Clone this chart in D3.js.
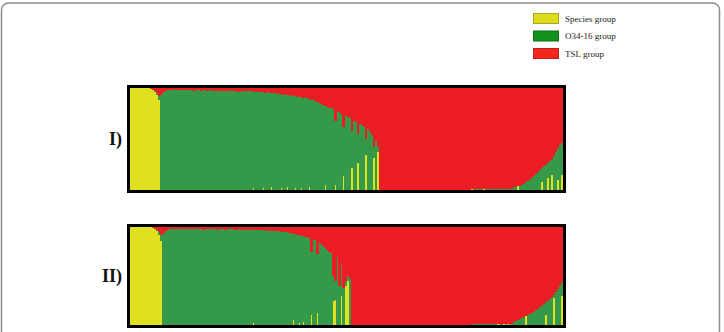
<!DOCTYPE html>
<html>
<head>
<meta charset="utf-8">
<script src="https://cdn.jsdelivr.net/npm/d3@7"></script>
<style>
  body { margin: 0; background: #fff; }
  svg { display: block; font-family: "Liberation Serif", "Times New Roman", serif; }
</style>
</head>
<body>
<svg id="chart"></svg>
<script>
const width = 724;
const height = 332;

const groups = ["Species group", "O34-16 group", "TSL group"];
const panelLabels = ["I)", "II)"];

// membership per individual (%), stacked yellow -> green -> red; green is the rest
const yellowI = [
  100,100,100,100,100,100,100,100,100,100,99,98,96,93,88,
  0,0,0,0,0,0,0,0,0,0, 0,0,0,0,0,0,0,0,0,0, 0,0,0,0,0,0,0,0,0,0, 0,0,0,0,0,0,0,0,0,0,
  0,0,0,0,0,0,2,0,0,0, 0,2,0,0,0,3,0,0,0,0, 2,0,0,3,0,0,0,2,0,0, 2,0,0,0,3,0,0,0,0,0,
  0,0,5,0,0,0,0,5,0,0, 0,14,0,0,0,22,0,0,26,0, 0,0,34,0,0,0,31,0,37,
  0,0,0,0,0,0,0,0,0,0, 0,0,0,0,0,0,0,0,0,0, 0,0,0,0,0,0,0,0,0,0, 0,0,0,0,0,0,0,0,0,0,
  0,0,0,0,0,0,1,0,0,0, 0,0,1,0,0,0,0,0,0,0, 0,0,0,0,0,0,0,0,0,4, 0,0,0,0,0,0,0,0,0,0,
  0,8,0,0,12,0,15,0,0,10, 0,15
];
const redI = [
  0,0,0,0,0,0,0,0,0,0,1,2,3,5,8,
  6,4,3,2,2,2,2,1,2,2, 2,2,2,2,2,2,3,2,2,2, 3,2,2,3,2,2,3,3,2,3, 3,3,3,3,2,3,3,3,3,4,
  3,3,3,3,3,3,3,4,3,4, 4,4,5,4,4,5,5,5,6,5, 6,7,6,7,7,8,7,8,9,8, 9,10,9,10,11,12,11,13,14,15,
  16,17,18,19,20,20,21,32,23,24, 25,38,27,28,29,42,32,33,45,35, 36,38,50,40,43,46,58,52,58,
  100,100,100,100,100,100,100,100,100,100, 100,100,100,100,100,100,100,100,100,100,
  100,100,100,100,100,100,100,100,100,100, 100,100,100,100,100,100,100,100,100,100,
  100,100,100,100,100,100,
  99,99,99,99,99,99,99,99,99,99, 99,99,99,99,99,99,99,99,99,99, 99,
  97,97,96,96,95,94,92,91,90,88, 86,84,82,80,78,76,75,74,72,71, 67,63,59,56,54
];

const yellowII = [
  100,100,100,100,100,100,100,100,100,100,100,99,98,96,92,86,
  0,0,0,0,0,0,0,0,0,0, 0,0,0,0,0,0,0,0,0,0, 0,0,0,0,0,0,0,0,0,0, 0,0,0,0,0,0,0,0,0,0,
  0,0,0,0,0,2,0,0,0,0, 0,0,0,0,0,0,0,0,0,0, 0,0,0,0,0,5,0,0,2,0, 3,0,0,0,10,0,0,12,0,0,
  0,0,0,0,0,25,26,0,0,30, 0,40,45,0,
  0,0,0,0,0,0,0,0,0,0, 0,0,0,0,0,0,0,0,0,0, 0,0,0,0,0,0,0,0,0,0, 0,0,0,0,0,0,0,0,0,0,
  0,0,0,0,0,0,0,0,0,0, 0,0,0,0,0,0,0,0,0,0, 0,0,0,0,0,0,0,0,0,0,
  0,0,0,1,0,0,1,0,1,0, 0,0,0,0,0,0,0,9,0,0, 0,0,0,0,0,0,0,10,0,0, 0,28,0,0,0,30
];
const redII = [
  0,0,0,0,0,0,0,0,0,0,0,1,2,3,5,8,
  6,4,3,2,2,2,2,2,2,1, 2,2,2,2,2,2,2,2,2,2, 3,2,2,2,2,2,2,3,2,2, 2,3,2,2,2,2,3,3,2,3,
  2,3,3,3,2,3,3,3,3,3, 3,3,4,3,4,4,4,4,4,5, 4,5,5,6,6,7,7,8,8,9, 9,10,10,11,25,13,13,28,15,17,
  19,21,23,25,27,50,55,31,60,38, 62,55,50,53,
  100,100,100,100,100,100,100,100,100,100, 100,100,100,100,100,100,100,100,100,100,
  100,100,100,100,100,100,100,100,100,100, 100,100,100,100,100,100,100,100,100,100,
  100,100,100,100,100,100,100,100,100,100, 100,100,100,100,100,100,100,100,100,100,
  99,99,99,99,99,99,99,99,99,99, 99,99,99,99,99,99,99,99,99,99, 99,
  97,96,95,94,93,92,91,90,89,88, 87,85,84,82,81,79,77,75,73,71, 69,66,63,60,56
];

const colors = { yellow: "#e0e01e", green: "#35994a", red: "#ec1d25" };
const legendFill = ["#dcdc1c", "#13931b", "#f3281f"];
const legendEdge = ["#a8a820", "#0c6e12", "#b82018"];

const svg = d3.select("#chart").attr("width", width).attr("height", height);

// outer rounded border of the figure
svg.append("rect")
  .attr("x", 1.5).attr("y", 3)
  .attr("width", 718).attr("height", 420)
  .attr("rx", 7)
  .attr("fill", "none")
  .attr("stroke", "#8c8c8c")
  .attr("stroke-width", 1.5);

function drawPanel(yellow, red, top, bottom, label) {
  const data = yellow.map((v, i) => ({
    id: i,
    yellow: v,
    green: Math.max(0, 100 - v - red[i]),
    red: red[i]
  }));

  const x = d3.scaleBand().domain(data.map((d) => d.id)).range([130, 563]);
  const y = d3.scaleLinear().domain([0, 100]).range([bottom, top]);
  const series = d3.stack().keys(["yellow", "green", "red"])(data);

  const g = svg.append("g").attr("shape-rendering", "crispEdges");
  g.selectAll("g")
    .data(series)
    .join("g")
    .attr("fill", (d) => colors[d.key])
    .selectAll("rect")
    .data((d) => d)
    .join("rect")
    .attr("x", (d) => x(d.data.id))
    .attr("width", x.bandwidth() + 0.5)
    .attr("y", (d) => y(d[1]))
    .attr("height", (d) => y(d[0]) - y(d[1]));

  svg.append("rect")
    .attr("x", 128.5)
    .attr("y", top - 1.5)
    .attr("width", 436)
    .attr("height", bottom - top + 3)
    .attr("fill", "none")
    .attr("stroke", "#000")
    .attr("stroke-width", 3);

  svg.append("text")
    .attr("x", 122)
    .attr("y", (top + bottom) / 2 + 6)
    .attr("text-anchor", "end")
    .attr("font-size", 18)
    .attr("font-weight", "bold")
    .attr("fill", "#111")
    .text(label);
}

drawPanel(yellowI, redI, 88, 190, panelLabels[0]);
drawPanel(yellowII, redII, 227, 325, panelLabels[1]);

// legend
const legend = svg.append("g");
legend.selectAll("rect")
  .data(groups)
  .join("rect")
  .attr("x", 533.5)
  .attr("y", (d, i) => 13.5 + i * 17.5)
  .attr("width", 25)
  .attr("height", 10)
  .attr("fill", (d, i) => legendFill[i])
  .attr("stroke", (d, i) => legendEdge[i])
  .attr("stroke-width", 1);
legend.selectAll("text")
  .data(groups)
  .join("text")
  .attr("x", 565)
  .attr("y", (d, i) => 21.5 + i * 17.5)
  .attr("font-size", 9)
  .attr("fill", "#222")
  .text((d) => d);
</script>
</body>
</html>
